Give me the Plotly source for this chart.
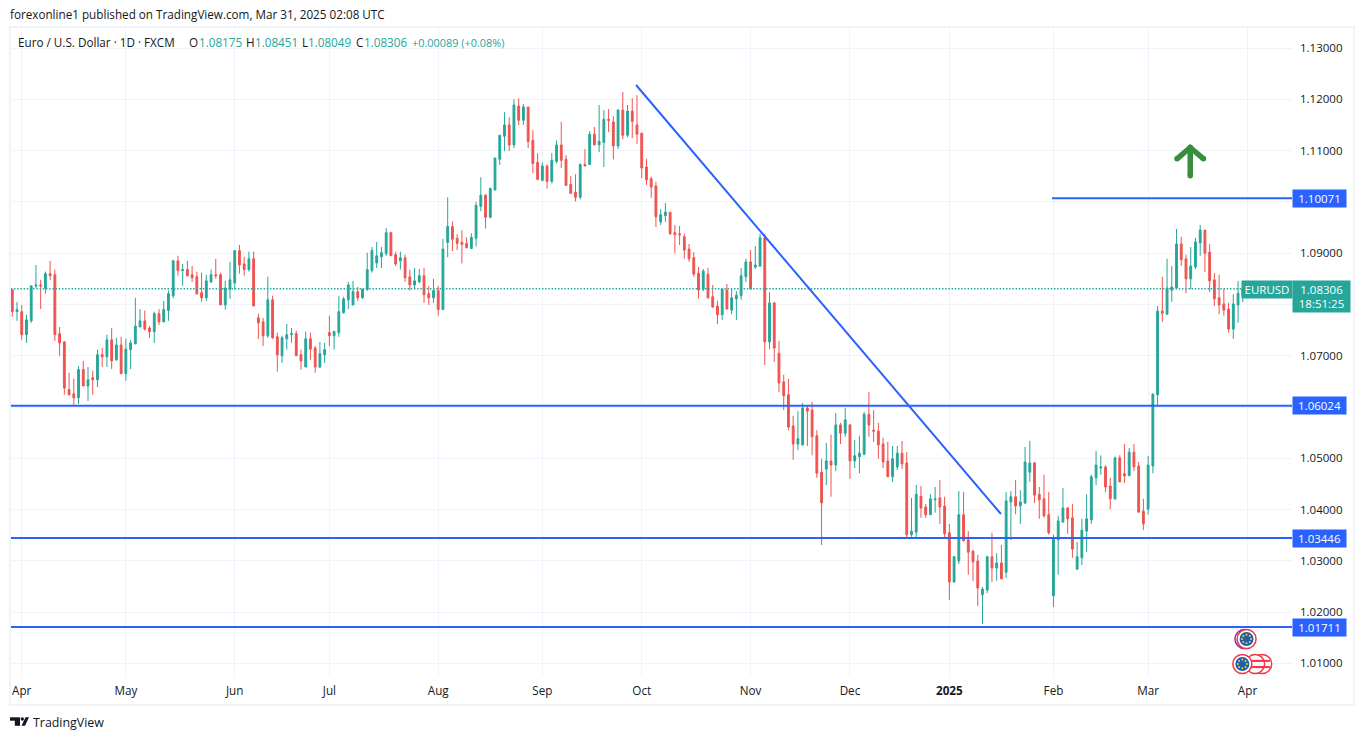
import plotly.graph_objects as go

# EURUSD daily bars (index 0 = first bar on the left)
opens = [
    1.0829,1.0786,1.0786,1.0741,1.0768,1.0836,1.0838,1.0832,1.0860,1.0858,
    1.0743,1.0727,1.0634,1.0626,1.0618,1.0673,1.0641,1.0657,1.0653,1.0702,
    1.0698,1.0731,1.0692,1.0721,1.0665,1.0712,1.0723,1.0756,1.0768,1.0754,
    1.0747,1.0782,1.0766,1.0788,1.0817,1.0885,1.0866,1.0868,1.0858,1.0854,
    1.0823,1.0813,1.0844,1.0858,1.0858,1.0799,1.0830,1.0842,1.0905,1.0879,
    1.0868,1.0889,1.0774,1.0766,1.0739,1.0809,1.0737,1.0700,1.0733,1.0741,
    1.0743,1.0702,1.0678,1.0733,1.0715,1.0678,1.0702,1.0745,1.0739,1.0745,
    1.0784,1.0809,1.0799,1.0825,1.0813,1.0829,1.0866,1.0881,1.0893,1.0899,
    1.0940,1.0897,1.0885,1.0891,1.0854,1.0838,1.0844,1.0856,1.0821,1.0813,
    1.0827,1.0790,1.0921,1.0952,1.0929,1.0921,1.0919,1.0909,1.0929,1.0991,
    1.1013,1.0970,1.1023,1.1083,1.1128,1.1150,1.1111,1.1187,1.1159,1.1185,
    1.1120,1.1077,1.1042,1.1070,1.1040,1.1079,1.1111,1.1083,1.1034,1.1019,
    1.1009,1.1073,1.1073,1.1132,1.1111,1.1116,1.1161,1.1156,1.1109,1.1179,
    1.1130,1.1177,1.1150,1.1134,1.1068,1.1045,1.1031,1.0961,1.0973,1.0980,
    1.0940,1.0938,1.0932,1.0908,1.0891,1.0861,1.0830,1.0859,1.0815,1.0797,
    1.0780,1.0828,1.0789,1.0811,1.0817,1.0854,1.0883,1.0873,1.0875,1.0930,
    1.0727,1.0803,1.0705,1.0649,1.0624,1.0563,1.0528,1.0526,1.0598,1.0594,
    1.0544,1.0473,1.0479,1.0495,1.0487,1.0565,1.0549,1.0565,1.0495,1.0503,
    1.0508,1.0586,1.0555,1.0553,1.0528,1.0495,1.0464,1.0483,1.0510,1.0491,
    1.0351,1.0356,1.0426,1.0405,1.0390,1.0419,1.0423,1.0407,1.0355,1.0259,
    1.0300,1.0390,1.0341,1.0319,1.0300,1.0234,1.0243,1.0308,1.0286,1.0296,
    1.0278,1.0415,1.0425,1.0407,1.0413,1.0473,1.0491,1.0430,1.0421,1.0390,
    1.0232,1.0341,1.0376,1.0403,1.0384,1.0284,1.0306,1.0358,1.0380,1.0462,
    1.0481,1.0483,1.0446,1.0421,1.0501,1.0470,1.0466,1.0512,1.0485,1.0397,
    1.0401,1.0485,1.0624,1.0787,1.0781,1.0828,1.0832,1.0918,1.0889,1.0850,
    1.0873,1.0920,1.0945,1.0902,1.0848,1.0813,1.0801,1.0791,1.0752,1.0799,
    1.08175,
]
highs = [
    1.0829,1.0805,1.0799,1.0780,1.0838,1.0877,1.0848,1.0864,1.0885,1.0868,
    1.0756,1.0729,1.0667,1.0655,1.0680,1.0690,1.0678,1.0671,1.0712,1.0715,
    1.0741,1.0754,1.0735,1.0737,1.0733,1.0731,1.0813,1.0791,1.0788,1.0758,
    1.0786,1.0791,1.0807,1.0827,1.0887,1.0895,1.0879,1.0885,1.0875,1.0864,
    1.0862,1.0858,1.0868,1.0889,1.0862,1.0846,1.0883,1.0905,1.0916,1.0893,
    1.0903,1.0903,1.0782,1.0774,1.0854,1.0817,1.0745,1.0739,1.0762,1.0754,
    1.0749,1.0712,1.0747,1.0745,1.0719,1.0727,1.0725,1.0778,1.0749,1.0817,
    1.0815,1.0844,1.0846,1.0834,1.0830,1.0901,1.0912,1.0922,1.0912,1.0949,
    1.0942,1.0903,1.0903,1.0897,1.0868,1.0871,1.0869,1.0871,1.0836,1.0850,
    1.0836,1.0928,1.1009,1.0962,1.0937,1.0945,1.0931,1.0939,1.1000,1.1048,
    1.1015,1.1028,1.1087,1.1130,1.1175,1.1165,1.1200,1.1202,1.1191,1.1185,
    1.1140,1.1095,1.1077,1.1073,1.1095,1.1120,1.1156,1.1091,1.1050,1.1054,
    1.1075,1.1103,1.1138,1.1146,1.1189,1.1179,1.1181,1.1167,1.1181,1.1214,
    1.1189,1.1202,1.1208,1.1134,1.1084,1.1049,1.1039,1.0986,1.0998,1.0980,
    1.0955,1.0953,1.0938,1.0918,1.0902,1.0873,1.0869,1.0871,1.0838,1.0807,
    1.0830,1.0840,1.0830,1.0826,1.0871,1.0889,1.0906,1.0914,1.0938,1.0938,
    1.0824,1.0805,1.0729,1.0663,1.0655,1.0583,1.0592,1.0608,1.0602,1.0610,
    1.0555,1.0499,1.0530,1.0546,1.0588,1.0569,1.0598,1.0567,1.0536,1.0544,
    1.0590,1.0629,1.0594,1.0569,1.0540,1.0532,1.0524,1.0524,1.0534,1.0512,
    1.0423,1.0448,1.0446,1.0411,1.0430,1.0444,1.0458,1.0425,1.0372,1.0310,
    1.0436,1.0434,1.0358,1.0321,1.0312,1.0249,1.0310,1.0355,1.0315,1.0331,
    1.0434,1.0436,1.0458,1.0438,1.0522,1.0534,1.0493,1.0444,1.0468,1.0434,
    1.0351,1.0388,1.0442,1.0405,1.0411,1.0337,1.0382,1.0430,1.0468,1.0514,
    1.0506,1.0487,1.0462,1.0503,1.0506,1.0528,1.0520,1.0528,1.0493,1.0421,
    1.0505,1.0627,1.0797,1.0854,1.0889,1.0875,1.0947,1.0932,1.0897,1.0912,
    1.0930,1.0955,1.0945,1.0918,1.0861,1.0858,1.0830,1.0803,1.0820,1.0846,
    1.08451,
]
lows = [
    1.0776,1.0768,1.0731,1.0725,1.0764,1.0832,1.0791,1.0821,1.0848,1.0729,
    1.0700,1.0624,1.0622,1.0602,1.0606,1.0641,1.0612,1.0624,1.0639,1.0678,
    1.0678,1.0674,1.0690,1.0665,1.0651,1.0674,1.0723,1.0756,1.0749,1.0735,
    1.0725,1.0760,1.0766,1.0768,1.0812,1.0856,1.0836,1.0854,1.0844,1.0819,
    1.0805,1.0807,1.0842,1.0850,1.0799,1.0790,1.0811,1.0829,1.0860,1.0856,
    1.0864,1.0797,1.0733,1.0719,1.0735,1.0733,1.0669,1.0686,1.0712,1.0725,
    1.0700,1.0673,1.0678,1.0692,1.0667,1.0676,1.0686,1.0719,1.0712,1.0737,
    1.0782,1.0791,1.0799,1.0807,1.0811,1.0827,1.0862,1.0871,1.0871,1.0895,
    1.0895,1.0875,1.0868,1.0844,1.0827,1.0829,1.0842,1.0803,1.0799,1.0803,
    1.0778,1.0790,1.0892,1.0904,1.0906,1.0880,1.0909,1.0909,1.0913,1.0982,
    1.0948,1.0968,1.1023,1.1072,1.1099,1.1099,1.1105,1.1150,1.1150,1.1105,
    1.1056,1.1042,1.1040,1.1026,1.1036,1.1075,1.1066,1.1032,1.1015,1.1001,
    1.1005,1.1070,1.1073,1.1111,1.1097,1.1068,1.1136,1.1083,1.1103,1.1122,
    1.1126,1.1124,1.1113,1.1046,1.1033,1.1008,1.0951,1.0955,1.0961,1.0936,
    1.0900,1.0916,1.0889,1.0883,1.0854,1.0811,1.0826,1.0811,1.0793,1.0762,
    1.0770,1.0791,1.0781,1.0770,1.0809,1.0844,1.0830,1.0869,1.0873,1.0682,
    1.0713,1.0688,1.0629,1.0594,1.0555,1.0497,1.0516,1.0526,1.0524,1.0506,
    1.0462,1.0331,1.0448,1.0425,1.0475,1.0528,1.0542,1.0460,1.0481,1.0471,
    1.0506,1.0542,1.0532,1.0499,1.0481,1.0464,1.0454,1.0477,1.0479,1.0345,
    1.0347,1.0345,1.0384,1.0384,1.0390,1.0394,1.0372,1.0345,1.0224,1.0257,
    1.0294,1.0339,1.0273,1.0261,1.0212,1.0177,1.0237,1.0259,1.0261,1.0265,
    1.0267,1.0341,1.0391,1.0372,1.0411,1.0454,1.0413,1.0382,1.0384,1.0351,
    1.0210,1.0273,1.0374,1.0353,1.0306,1.0282,1.0292,1.0317,1.0372,1.0448,
    1.0468,1.0434,1.0401,1.0419,1.0454,1.0452,1.0466,1.0475,1.0395,1.0360,
    1.0390,1.0471,1.0604,1.0766,1.0780,1.0805,1.0830,1.0875,1.0822,1.0830,
    1.0869,1.0895,1.0863,1.0824,1.0797,1.0781,1.0778,1.0745,1.0733,1.0764,
    1.08049,
]
closes = [
    1.0786,1.0790,1.0741,1.0770,1.0836,1.0838,1.0836,1.0860,1.0856,1.0741,
    1.0725,1.0637,1.0624,1.0618,1.0673,1.0641,1.0653,1.0653,1.0702,1.0698,
    1.0731,1.0690,1.0721,1.0665,1.0713,1.0725,1.0758,1.0768,1.0752,1.0747,
    1.0782,1.0766,1.0790,1.0821,1.0885,1.0866,1.0868,1.0856,1.0852,1.0821,
    1.0813,1.0846,1.0858,1.0856,1.0799,1.0832,1.0848,1.0905,1.0877,1.0868,
    1.0889,1.0797,1.0764,1.0739,1.0809,1.0735,1.0702,1.0735,1.0741,1.0743,
    1.0700,1.0690,1.0733,1.0713,1.0678,1.0704,1.0712,1.0739,1.0747,1.0786,
    1.0811,1.0838,1.0825,1.0813,1.0830,1.0868,1.0905,1.0895,1.0901,1.0940,
    1.0895,1.0879,1.0891,1.0852,1.0838,1.0846,1.0856,1.0819,1.0813,1.0827,
    1.0790,1.0908,1.0952,1.0927,1.0919,1.0917,1.0911,1.0931,1.0993,1.1013,
    1.0970,1.1026,1.1085,1.1130,1.1150,1.1111,1.1189,1.1159,1.1185,1.1118,
    1.1075,1.1044,1.1070,1.1040,1.1081,1.1111,1.1081,1.1032,1.1017,1.1009,
    1.1073,1.1070,1.1132,1.1111,1.1118,1.1161,1.1159,1.1109,1.1179,1.1130,
    1.1177,1.1157,1.1132,1.1066,1.1043,1.1029,1.0971,1.0975,1.0980,1.0938,
    1.0936,1.0936,1.0906,1.0889,1.0859,1.0828,1.0865,1.0813,1.0795,1.0780,
    1.0830,1.0791,1.0813,1.0818,1.0856,1.0883,1.0830,1.0877,1.0930,1.0727,
    1.0803,1.0715,1.0647,1.0622,1.0561,1.0528,1.0538,1.0598,1.0592,1.0542,
    1.0471,1.0413,1.0495,1.0487,1.0565,1.0549,1.0575,1.0495,1.0505,1.0510,
    1.0586,1.0565,1.0553,1.0526,1.0493,1.0464,1.0499,1.0510,1.0489,1.0351,
    1.0358,1.0430,1.0403,1.0390,1.0421,1.0421,1.0405,1.0353,1.0259,1.0308,
    1.0390,1.0339,1.0317,1.0298,1.0247,1.0245,1.0308,1.0286,1.0296,1.0265,
    1.0417,1.0425,1.0407,1.0415,1.0493,1.0491,1.0428,1.0419,1.0388,1.0355,
    1.0345,1.0378,1.0403,1.0382,1.0323,1.0308,1.0360,1.0382,1.0464,1.0487,
    1.0483,1.0444,1.0421,1.0501,1.0454,1.0466,1.0512,1.0483,1.0395,1.0372,
    1.0487,1.0625,1.0787,1.0783,1.0832,1.0834,1.0918,1.0887,1.0850,1.0875,
    1.0922,1.0945,1.0900,1.0846,1.0811,1.0799,1.0789,1.0752,1.0801,1.0822,
    1.08306,
]
bars = list(range(len(closes)))

month_pos = [2, 24, 47, 67, 90, 112, 133, 156, 177, 198, 220, 240, 261]
month_text = ["Apr", "May", "Jun", "Jul", "Aug", "Sep", "Oct", "Nov", "Dec", "<b>2025</b>", "Feb", "Mar", "Apr"]
price_ticks = [1.01, 1.02, 1.03, 1.04, 1.05, 1.06, 1.07, 1.08, 1.09, 1.10, 1.11, 1.12, 1.13]
# the 1.06, 1.08 and 1.10 labels sit under the price tags, only their gridlines show
price_text = ["1.01000", "1.02000", "1.03000", "1.04000", "1.05000", "", "1.07000", "",
              "1.09000", "", "1.11000", "1.12000", "1.13000"]

# drawings on the chart
levels = [1.06024, 1.03446, 1.01711]
resist_level = 1.10071
resist_start = 219.7
trend_x = [131.8, 208.9]
trend_y = [1.12279, 1.03914]
arrow_x = [246.1, 248.9, 251.7, None, 248.9, 248.9]
arrow_y = [1.1084, 1.1106, 1.1084, None, 1.1106, 1.1051]
last_price = 1.08306

# economic event icons under the bars
eu_x = [260.8, 259.9]
eu_y = [1.01477, 1.00990]
us_x = [264.1, 262.6]
us_y = [1.00990, 1.00990]
star_dx = [0, 0.67, 0.95, 0.67, 0, -0.67, -0.95, -0.67]
star_dy = [0.00085, 0.0006, 0, -0.0006, -0.00085, -0.0006, 0, 0.0006]

UP = "#26a69a"
DOWN = "#ef5350"
BLUE = "#2962FF"
GRID = "#F0F3FA"
INK = "#131722"
FONT = "Open Sans"

W, H = 1364, 740
PL, PR, PT, PB = 11, 1292, 27, 677


def px(x):
    return (x - PL) / (PR - PL)


def py(y):
    return (PB - y) / (PB - PT)


fig = go.Figure()

fig.add_trace(go.Scatter(x=[-1, 272], y=[last_price, last_price], mode="lines",
                         line=dict(color=UP, width=1.6, dash="1.5px,1.7px")))

fig.add_trace(go.Candlestick(
    x=bars, open=opens, high=highs, low=lows, close=closes,
    increasing=dict(line=dict(color=UP, width=1), fillcolor=UP),
    decreasing=dict(line=dict(color=DOWN, width=1), fillcolor=DOWN),
    whiskerwidth=0,
))

for lvl in levels:
    fig.add_trace(go.Scatter(x=[-1, 272], y=[lvl, lvl], mode="lines", line=dict(color=BLUE, width=2)))
fig.add_trace(go.Scatter(x=[resist_start, 272], y=[resist_level, resist_level], mode="lines",
                         line=dict(color=BLUE, width=2)))
fig.add_trace(go.Scatter(x=trend_x, y=trend_y, mode="lines", line=dict(color=BLUE, width=2)))
fig.add_trace(go.Scatter(x=arrow_x, y=arrow_y, mode="lines+markers",
                         line=dict(color="#388E3C", width=5.5),
                         marker=dict(color="#388E3C", size=5.5)))

# event icons
fig.add_trace(go.Scatter(x=[eu_x[0] - 0.45], y=[eu_y[0]], mode="markers",
                         marker=dict(size=19, color="white", line=dict(color="#9C27B0", width=1.5))))
fig.add_trace(go.Scatter(x=us_x, y=us_y, mode="markers",
                         marker=dict(size=19, color="white", line=dict(color="#F23645", width=1.5))))
fig.add_trace(go.Scatter(x=us_x + us_x, y=[v + 0.0006 for v in us_y] + [v - 0.0006 for v in us_y], mode="markers",
                         marker=dict(size=11, symbol="line-ew", line=dict(color="#F23645", width=2))))
fig.add_trace(go.Scatter(x=eu_x, y=eu_y, mode="markers",
                         marker=dict(size=19, color="white", line=dict(color="#F23645", width=1.5))))
fig.add_trace(go.Scatter(x=eu_x, y=eu_y, mode="markers", marker=dict(size=14, color="#1C5FAD")))
for ex, ey in zip(eu_x, eu_y):
    fig.add_trace(go.Scatter(x=[ex + d for d in star_dx], y=[ey + d for d in star_dy], mode="markers",
                             marker=dict(size=2, color="#F4D03F")))

notes = []


def label(x, y, text, size=11.7, color=INK, xanchor="left", **kw):
    # annotation boxes carry 2px of padding on the left
    shift = 2 if xanchor == "left" else 0
    notes.append(dict(xref="paper", yref="paper", x=px(x - shift), y=py(y), text=text, showarrow=False,
                      xanchor=xanchor, yanchor="middle", align="center",
                      font=dict(family=FONT, size=size, color=color), **kw))


label(10, 14, "forexonline1 published on TradingView.com, Mar 31, 2025 02:08 UTC")
label(18, 42, "Euro / U.S. Dollar · 1D · FXCM")
for x, txt in [(189, "O"), (246, "H"), (302, "L"), (356, "C")]:
    label(x, 42, txt)
for x, txt in [(199, "1.08175"), (255, "1.08451"), (308, "1.08049"), (364, "1.08306")]:
    label(x, 42, txt, color=UP)
label(411.5, 42, "+0.00089 (+0.08%)", size=10.9, color=UP)
label(33, 722, "TradingView", size=12.4)

# price scale tags
for lvl in [resist_level] + levels:
    notes.append(dict(xref="paper", yref="y", x=px(1319.5), y=lvl, text=f"{lvl:.5f}", showarrow=False,
                      xanchor="center", yanchor="middle", width=53, height=17, bgcolor=BLUE, borderpad=0,
                      font=dict(family=FONT, size=11.5, color="white")))
label(1267, 289.5, "EURUSD", size=11.5, color="white", xanchor="center", width=50, height=17, bgcolor=UP, borderpad=0)
label(1321.5, 296.5, "1.08306<br>18:51:25", size=11.5, color="white", xanchor="center", width=57, height=31,
      bgcolor=UP, borderpad=0)

# pane frame and the logo
shapes = [dict(type="rect", xref="paper", yref="paper", x0=px(10), x1=px(1354), y0=py(27), y1=py(705),
               line=dict(color=GRID, width=2), layer="below")]
for x0, y0, x1, y1 in [(10, 717.3, 20, 720.7), (14.8, 720, 20, 725.8)]:
    shapes.append(dict(type="rect", xref="paper", yref="paper", x0=px(x0), x1=px(x1), y0=py(y0), y1=py(y1),
                       fillcolor=INK, line=dict(width=0)))
shapes.append(dict(type="circle", xref="paper", yref="paper", x0=px(20.6), x1=px(24), y0=py(717.3), y1=py(720.7),
                   fillcolor=INK, line=dict(width=0)))
shapes.append(dict(type="path", xref="paper", yref="paper", fillcolor=INK, line=dict(width=0),
                   path=f"M {px(25.5)} {py(717.3)} L {px(29)} {py(717.3)} L {px(25)} {py(725.8)} L {px(21.5)} {py(725.8)} Z"))

fig.update_layout(
    width=W, height=H, autosize=False,
    margin=dict(l=PL, r=W - PR, t=PT, b=H - PB, autoexpand=False),
    paper_bgcolor="white", plot_bgcolor="white",
    showlegend=False, boxgap=0.45,
    annotations=notes, shapes=shapes,
    xaxis=dict(range=[-0.27, 270.4], rangeslider=dict(visible=False), tickvals=month_pos, ticktext=month_text,
               showgrid=True, gridcolor=GRID, gridwidth=1, zeroline=False, showline=False, ticks="",
               ticklabelstandoff=5, tickfont=dict(family=FONT, size=11.7, color=INK)),
    yaxis=dict(range=[1.00736, 1.1341], side="right", tickvals=price_ticks, ticktext=price_text,
               showgrid=True, gridcolor=GRID, gridwidth=1, zeroline=False, showline=False, ticks="",
               ticklabelstandoff=7, tickfont=dict(family=FONT, size=11.5, color=INK)),
)

fig.write_html("out.html", config=dict(displayModeBar=False), post_script="document.body.style.margin='0';")
